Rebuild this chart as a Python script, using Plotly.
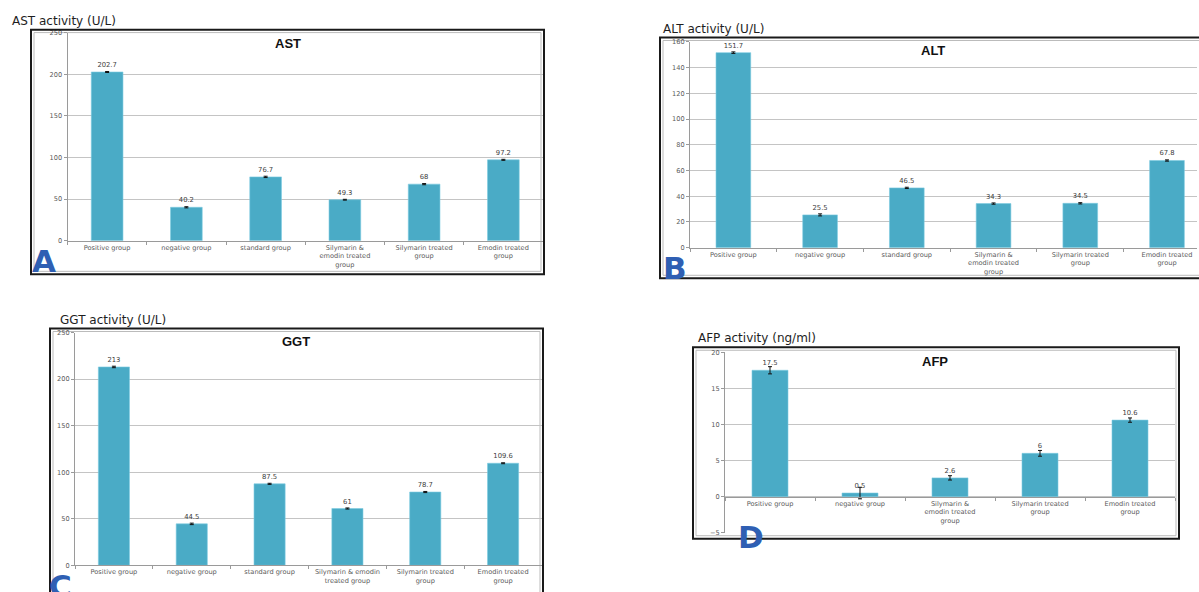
import plotly.graph_objects as go

W, H = 1199, 592

# ---------------- data ----------------
groups_six = ["Positive group", "negative group", "standard group",
              "Silymarin & emodin treated group", "Silymarin treated group",
              "Emodin treated group"]
groups_afp = ["Positive group", "negative group",
              "Silymarin & emodin treated group", "Silymarin treated group",
              "Emodin treated group"]

ticks_ab = ["Positive group", "negative group", "standard group",
            "Silymarin &<br>emodin treated<br>group", "Silymarin treated<br>group",
            "Emodin treated<br>group"]
ticks_c = ["Positive group", "negative group", "standard group",
           "Silymarin & emodin<br>treated group", "Silymarin treated<br>group",
           "Emodin treated<br>group"]
ticks_d = ["Positive group", "negative group",
           "Silymarin &<br>emodin treated<br>group", "Silymarin treated<br>group",
           "Emodin treated<br>group"]

ast_values = [202.7, 40.2, 76.7, 49.3, 68, 97.2]
ast_err = [0.6, 0.7, 0.8, 0.5, 0.7, 0.6]
alt_values = [151.7, 25.5, 46.5, 34.3, 34.5, 67.8]
alt_err = [0.6, 0.8, 0.5, 0.5, 0.5, 0.5]
ggt_values = [213, 44.5, 87.5, 61, 78.7, 109.6]
ggt_err = [0.8, 0.8, 0.6, 0.6, 0.6, 0.5]
afp_values = [17.5, 0.5, 2.6, 6, 10.6]
afp_err = [0.5, 0.8, 0.3, 0.4, 0.3]

# ---------------- style ----------------
BAR = "#4AABC6"
GRID = "#C4C4C4"
AXIS = "#9A9A9A"
TICKFONT = dict(family="DejaVu Sans", size=6.6, color="#5A5A5A")
LABELFONT = dict(family="DejaVu Sans", size=6.8, color="#404040")


def px(x):
    return x / W


def py(y):
    return 1 - y / H


fig = go.Figure()

panels = [
    # name, cats, ticktext, values, err, xdom(px), ydom(px bottom, top), yrange, dtick, xrange
    ("1", groups_six, ticks_ab, ast_values, ast_err, (67.5, 543), (240, 29), [0, 250], 50, [-0.5, 5.5]),
    ("2", groups_six, ticks_ab, alt_values, alt_err, (690, 1197), (247, 38.5), [0, 160], 20, [-0.5, 5.346]),
    ("3", groups_six, ticks_c, ggt_values, ggt_err, (75, 542), (569, 333), [0, 250], 50, [-0.5, 5.5]),
    ("4", groups_afp, ticks_d, afp_values, afp_err, (725, 1175), (536, 353), [-5, 20], 5, [-0.5, 4.5]),
]

for name, cats, ttext, vals, errs, xd, yd, yr, dt, xr in panels:
    xa = "x" if name == "1" else "x" + name
    ya = "y" if name == "1" else "y" + name
    fig.add_trace(go.Bar(
        x=cats, y=vals, xaxis=xa, yaxis=ya,
        marker=dict(color=BAR, line=dict(color="#7CCBE0", width=0.6)),
        width=0.4,
        error_y=dict(type="data", array=errs, visible=True, color="#111111",
                     thickness=1, width=2),
        text=[f"{v:g}" for v in vals], textposition="outside",
        textfont=LABELFONT, cliponaxis=False, showlegend=False,
    ))
    xkey = "xaxis" if name == "1" else "xaxis" + name
    ykey = "yaxis" if name == "1" else "yaxis" + name
    ydom = [py(yd[0]), py(yd[1])]
    xaxis = dict(domain=[px(xd[0]), px(xd[1])], type="category",
                 categoryorder="array", categoryarray=cats,
                 tickvals=cats, ticktext=ttext, range=xr,
                 tickfont=TICKFONT, showline=True, linecolor=AXIS, linewidth=1,
                 ticks="outside", ticklen=3, tickcolor=AXIS, tickson="boundaries",
                 showgrid=False, zeroline=False, fixedrange=True)
    if name == "4":
        zero_pos = ydom[0] + (0 - yr[0]) / (yr[1] - yr[0]) * (ydom[1] - ydom[0])
        xaxis.update(anchor="free", position=zero_pos)
    else:
        xaxis.update(anchor=ya)
    fig.layout[xkey] = xaxis
    fig.layout[ykey] = dict(domain=ydom, range=yr, dtick=dt, anchor=xa,
                            tickfont=TICKFONT, showline=True, linecolor=AXIS,
                            linewidth=1, ticks="outside", ticklen=3, tickcolor=AXIS,
                            showgrid=True, gridcolor=GRID, gridwidth=1,
                            zeroline=False, fixedrange=True)

# frames
frames = [(31, 26, 544, 274), (660, 34, 1203, 278), (50, 329, 543, 600), (693, 348, 1179, 542)]
for x0, y0, x1, y1 in frames:
    fig.add_shape(type="rect", xref="paper", yref="paper",
                  x0=px(x0), x1=px(x1), y0=py(y1), y1=py(y0),
                  line=dict(color="#1A1A1A", width=2), layer="above")
    fig.add_shape(type="rect", xref="paper", yref="paper",
                  x0=px(x0 + 3), x1=px(x1 - 3), y0=py(y1 - 3), y1=py(y0 + 3),
                  line=dict(color="#BBBBBB", width=1), layer="below")

annotations = []
# axis titles (upper-left)
for text, x, y in [("AST activity (U/L)", 10, 17), ("ALT activity (U/L)", 661, 25),
                   ("GGT activity (U/L)", 58, 320), ("AFP activity (ng/ml)", 696, 339)]:
    annotations.append(dict(text=text, x=px(x), y=py(y), xref="paper", yref="paper",
                            xanchor="left", yanchor="middle", showarrow=False,
                            font=dict(family="DejaVu Sans", size=12, color="#1E1E1E")))
# chart titles
for text, x, y in [("AST", 288, 40), ("ALT", 933, 47), ("GGT", 296, 342), ("AFP", 935, 362)]:
    annotations.append(dict(text=text, x=px(x), y=py(y), xref="paper", yref="paper",
                            xanchor="center", yanchor="middle", showarrow=False,
                            font=dict(family="Liberation Sans", size=13, color="#111111", weight="bold")))
# panel letters
for text, x, y in [("A", 30, 261), ("B", 661, 268), ("C", 47, 590), ("D", 736, 540)]:
    annotations.append(dict(text=text, x=px(x), y=py(y), xref="paper", yref="paper",
                            xanchor="left", yanchor="middle", showarrow=False,
                            font=dict(family="DejaVu Sans", size=31, color="#2F5FB3", weight="bold")))

fig.update_layout(
    width=W, height=H, margin=dict(l=0, r=0, t=0, b=0),
    paper_bgcolor="white", plot_bgcolor="white",
    annotations=annotations, bargap=0.6, showlegend=False,
)

fig.write_html("out.html", config={"displayModeBar": False})
